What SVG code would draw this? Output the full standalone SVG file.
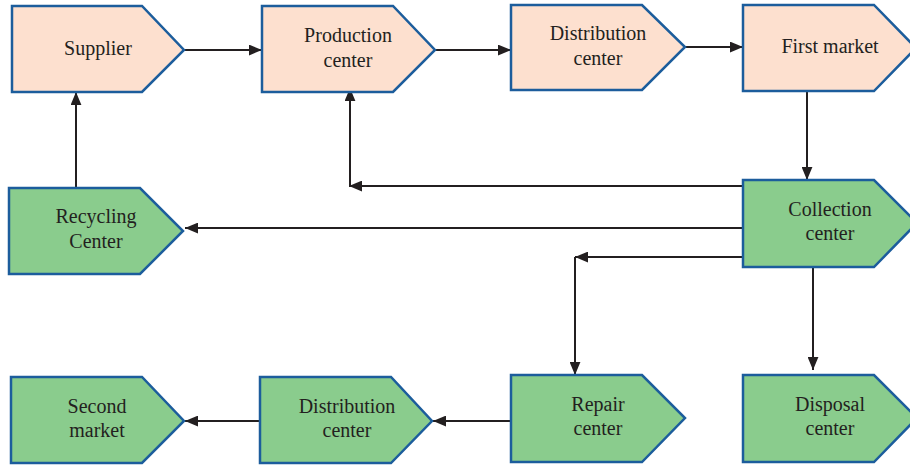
<svg xmlns="http://www.w3.org/2000/svg" width="910" height="466" viewBox="0 0 910 466">
<defs>
<style>
.peach{fill:#fde0cf;stroke:#1c5d9c;stroke-width:2.5;stroke-linejoin:miter}
.green{fill:#8acc8d;stroke:#1c5d9c;stroke-width:2.5;stroke-linejoin:miter}
.lbl{font-family:"Liberation Serif","DejaVu Serif",serif;font-size:20px;fill:#231f20;text-anchor:middle}
.con{fill:none;stroke:#231f20;stroke-width:2}
</style>
<marker id="ah" viewBox="0 0 12 10" refX="12" refY="5" markerWidth="13" markerHeight="11" markerUnits="userSpaceOnUse" orient="auto">
<path d="M0,0 L12,5 L0,10 Z" fill="#231f20"/>
</marker>
</defs>
<rect width="910" height="466" fill="#ffffff"/>
<g id="connectors">
<line class="con" x1="184" y1="50" x2="262" y2="50" marker-end="url(#ah)"/>
<line class="con" x1="435" y1="50" x2="511" y2="50" marker-end="url(#ah)"/>
<line class="con" x1="685" y1="47" x2="743" y2="47" marker-end="url(#ah)"/>
<line class="con" x1="807" y1="91" x2="807" y2="180" marker-end="url(#ah)"/>
<line class="con" x1="743" y1="186" x2="349" y2="186" marker-end="url(#ah)"/>
<line class="con" x1="350" y1="186" x2="350" y2="88" marker-end="url(#ah)"/>
<line class="con" x1="743" y1="228" x2="185" y2="228" marker-end="url(#ah)"/>
<line class="con" x1="76" y1="188" x2="76" y2="92" marker-end="url(#ah)"/>
<line class="con" x1="743" y1="257" x2="575" y2="257" marker-end="url(#ah)"/>
<line class="con" x1="575" y1="257" x2="575" y2="375" marker-end="url(#ah)"/>
<line class="con" x1="813" y1="267" x2="813" y2="370" marker-end="url(#ah)"/>
<line class="con" x1="511" y1="421" x2="433" y2="421" marker-end="url(#ah)"/>
<line class="con" x1="262" y1="421" x2="185" y2="421" marker-end="url(#ah)"/>
</g>
<g id="supplier">
<polygon class="peach" points="12,6 142,6 184,50 142,92 12,92"/>
<text class="lbl" x="98" y="55">Supplier</text>
</g>
<g id="production-center">
<polygon class="peach" points="262,6 393,6 435,50 393,92 262,92"/>
<text class="lbl" x="348" y="42">Production</text>
<text class="lbl" x="348" y="67">center</text>
</g>
<g id="distribution-center-1">
<polygon class="peach" points="511,5 642,5 685,47 642,90 511,90"/>
<text class="lbl" x="598" y="40">Distribution</text>
<text class="lbl" x="598" y="65">center</text>
</g>
<g id="first-market">
<polygon class="peach" points="743,5 874,5 916,48 874,91 743,91"/>
<text class="lbl" x="830" y="53">First market</text>
</g>
<g id="recycling-center">
<polygon class="green" points="9,188 140,188 183,231 140,274 9,274"/>
<text class="lbl" x="96" y="223">Recycling</text>
<text class="lbl" x="96" y="248">Center</text>
</g>
<g id="collection-center">
<polygon class="green" points="743,180 874,180 917,223 874,267 743,267"/>
<text class="lbl" x="830" y="216">Collection</text>
<text class="lbl" x="830" y="240">center</text>
</g>
<g id="second-market">
<polygon class="green" points="11,377 142,377 184,421 142,463 11,463"/>
<text class="lbl" x="97" y="413">Second</text>
<text class="lbl" x="97" y="437">market</text>
</g>
<g id="distribution-center-2">
<polygon class="green" points="260,377 391,377 432,421 391,463 260,463"/>
<text class="lbl" x="347" y="413">Distribution</text>
<text class="lbl" x="347" y="437">center</text>
</g>
<g id="repair-center">
<polygon class="green" points="511,375 642,375 685,418 642,462 511,462"/>
<text class="lbl" x="598" y="411">Repair</text>
<text class="lbl" x="598" y="435">center</text>
</g>
<g id="disposal-center">
<polygon class="green" points="743,375 874,375 917,418 874,462 743,462"/>
<text class="lbl" x="830" y="411">Disposal</text>
<text class="lbl" x="830" y="435">center</text>
</g>
</svg>
